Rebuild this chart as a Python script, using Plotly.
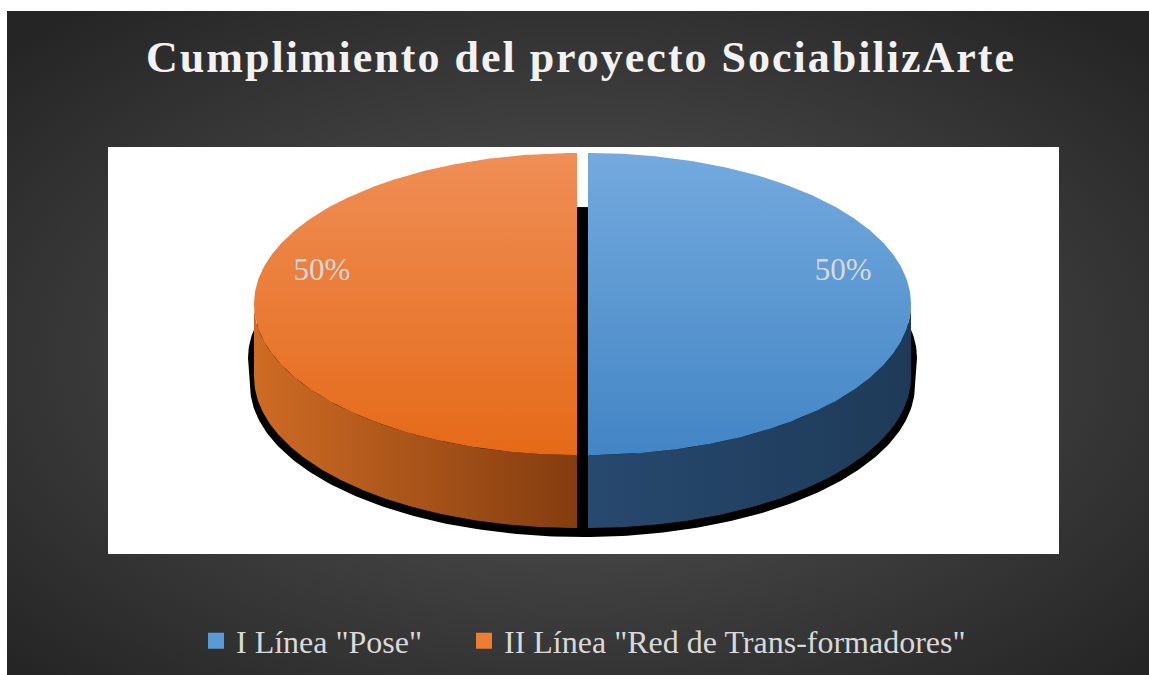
import base64
import numpy as np
import plotly.graph_objects as go

# ---------------- data ----------------
categories = ['I Línea "Pose"', 'II Línea "Red de Trans-formadores"']
values = [50, 50]
pct_labels = ['50%', '50%']
title_text = 'Cumplimiento del proyecto SociabilizArte'

# ---------------- style ----------------
legend_colors = ['#5B9BD5', '#ED7D31']
top_grad = [('#74AADE', '#4285C5'), ('#EF8E56', '#E56A18')]   # top -> bottom
side_grad = [('#27496E', '#1E3A58'), ('#CE6B24', '#843D0F')]  # left -> right
SERIF = 'Liberation Serif, serif'

W, H = 1149, 675
CX, CY = 582.5, 304.0      # pie centre (pixels)
RA, RB = 323.0, 151.0      # ellipse radii
DEPTH = 73.0               # 3D thickness
EXPLODE = 5.5

fig = go.Figure()


def ell(cx, cy, a, b, t):
    t = np.radians(t)
    return cx + a * np.cos(t), cy + b * np.sin(t)


# shadow behind the pie
ux, uy = ell(CX, CY + 54, RA + EXPLODE + 6, RB, np.linspace(180, 360, 200))
bx, by = ell(CX, CY + DEPTH + 8, RA + EXPLODE + 4, RB + 1, np.linspace(0, 180, 200))
fig.add_trace(go.Scatter(x=np.r_[ux, bx], y=np.r_[uy, by], fill='toself', fillcolor='black',
                         mode='lines', line=dict(width=0), hoverinfo='skip', showlegend=False))

total = float(sum(values))
angles = [-90.0]
for v in values:
    angles.append(angles[-1] + 360.0 * v / total)


def front_range(t0, t1):
    for k in (-360, 0, 360):
        lo, hi = max(t0, k), min(t1, k + 180)
        if hi > lo:
            return lo, hi
    return None


centers = []
for i, v in enumerate(values):
    t0, t1 = angles[i], angles[i + 1]
    mid = np.radians((t0 + t1) / 2)
    cx = CX + EXPLODE * np.cos(mid)
    cy = CY + EXPLODE * np.sin(mid) * RB / RA
    centers.append((cx, cy, mid))
    fr = front_range(t0, t1)
    if fr:
        ts = np.linspace(fr[0], fr[1], 200)
        ax, ay = ell(cx, cy, RA, RB, ts)
        xs = np.r_[ax, ax[::-1]]
        ys = np.r_[ay, ay[::-1] + DEPTH]
        fig.add_trace(go.Scatter(
            x=xs, y=ys, fill='toself', mode='lines', line=dict(width=0),
            fillgradient=dict(type='horizontal',
                              colorscale=[[0, side_grad[i][0]], [1, side_grad[i][1]]]),
            hoverinfo='skip', showlegend=False))

for i, v in enumerate(values):
    t0, t1 = angles[i], angles[i + 1]
    cx, cy, mid = centers[i]
    ax, ay = ell(cx, cy, RA, RB, np.linspace(t0, t1, 300))
    fig.add_trace(go.Scatter(
        x=np.r_[cx, ax, cx], y=np.r_[cy, ay, cy], fill='toself', mode='lines',
        line=dict(width=0),
        fillgradient=dict(type='vertical',
                          colorscale=[[0, top_grad[i][1]], [1, top_grad[i][0]]]),
        hoverinfo='skip', showlegend=False))

# data labels
lx = [c[0] + 0.79 * RA * np.cos(c[2]) for c in centers]
ly = [c[1] + 0.79 * RB * np.sin(c[2]) - 0.21 * RB for c in centers]
fig.add_trace(go.Scatter(x=lx, y=ly, mode='text', text=pct_labels,
                         textfont=dict(family=SERIF, size=31, color='#D9D9D9'),
                         hoverinfo='skip', showlegend=False))

# legend entries (one legend box per entry, placed like the original)
legend_x = [196, 464]
for k, (name, col) in enumerate(zip(categories, legend_colors)):
    fig.add_trace(go.Scatter(x=[None], y=[None], mode='markers', name=name,
                             legend='legend' if k == 0 else 'legend%d' % (k + 1),
                             marker=dict(symbol='square', size=16, color=col)))

bg_svg = ('<svg xmlns="http://www.w3.org/2000/svg" width="1142" height="664" '
          'viewBox="0 0 1142 664" preserveAspectRatio="none"><defs>'
          '<radialGradient id="g" cx="50%" cy="52%" r="68%">'
          '<stop offset="0" stop-color="#595959"/><stop offset="1" stop-color="#252525"/>'
          '</radialGradient></defs><rect width="1142" height="664" fill="url(#g)"/></svg>')
bg_uri = 'data:image/svg+xml;base64,' + base64.b64encode(bg_svg.encode()).decode()

legend_style = dict(orientation='h', xanchor='left', y=1 - 641 / H, yanchor='middle',
                    font=dict(family=SERIF, size=32, color='#D9D9D9'),
                    bgcolor='rgba(0,0,0,0)', itemclick=False, itemdoubleclick=False)

fig.update_layout(
    width=W, height=H,
    margin=dict(l=0, r=0, t=0, b=0),
    paper_bgcolor='white', plot_bgcolor='rgba(0,0,0,0)',
    xaxis=dict(range=[0, W], visible=False, fixedrange=True),
    yaxis=dict(range=[H, 0], visible=False, fixedrange=True),
    title=dict(text='<b><span style="letter-spacing:2px">' + title_text + '</span></b>',
               x=581 / W, xanchor='center', y=1 - 57 / H, yanchor='middle',
               font=dict(family=SERIF, size=44, color='#F2F2F2')),
    images=[dict(source=bg_uri, xref='paper', yref='paper', x=7 / W, y=1 - 11 / H,
                 sizex=(W - 7) / W, sizey=(H - 11) / H, sizing='stretch',
                 xanchor='left', yanchor='top', layer='below')],
    shapes=[dict(type='rect', xref='x', yref='y', x0=108, x1=1059, y0=147, y1=554,
                 fillcolor='white', line=dict(width=0), layer='below')],
    legend=dict(x=legend_x[0] / W, **legend_style),
    legend2=dict(x=legend_x[1] / W, **legend_style),
    showlegend=True,
)

fig.write_html('out.html')
